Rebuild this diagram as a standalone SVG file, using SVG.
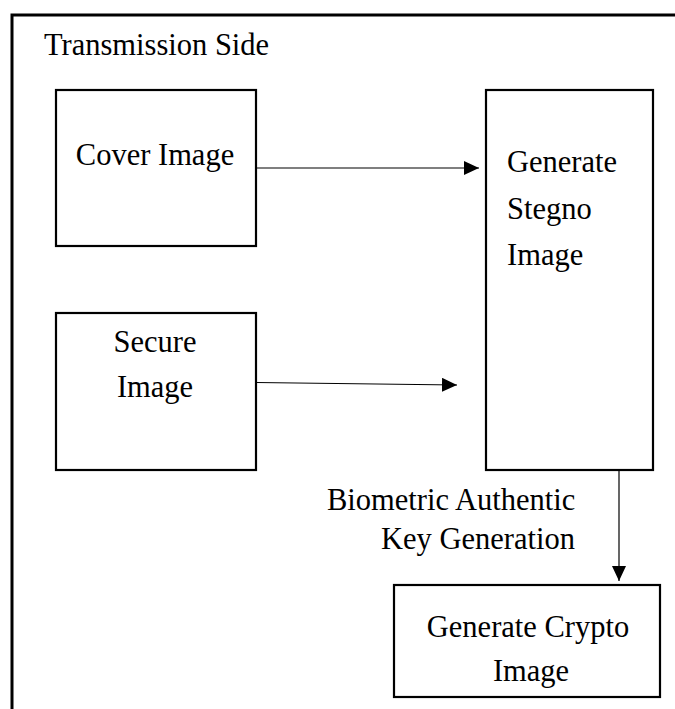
<svg xmlns="http://www.w3.org/2000/svg" width="675" height="709" viewBox="0 0 675 709">
  <style>
    .box { fill: #fff; stroke: #000; stroke-width: 2.2; }
    .frame { fill: none; stroke: #000; stroke-width: 3; }
    .wire { fill: none; stroke: #000; stroke-width: 1.2; }
    .label { font-family: "Liberation Serif", "Times New Roman", serif; font-size: 30.5px; fill: #000; }
    .mid { text-anchor: middle; }
  </style>
  <defs>
    <marker id="arrow" markerUnits="userSpaceOnUse" markerWidth="16" markerHeight="14" refX="15" refY="7" orient="auto">
      <path d="M0,0 L15,7 L0,14 Z" fill="#000"/>
    </marker>
  </defs>
  <rect width="675" height="709" fill="#fff"/>

  <!-- outer panel: only top and left edges are visible -->
  <path class="frame" d="M12,709 L12,15 L675,15"/>
  <text class="label" x="44" y="55">Transmission Side</text>

  <g id="cover-image">
    <rect class="box" x="56" y="90" width="200" height="156"/>
    <text class="label mid" x="155" y="165">Cover Image</text>
  </g>

  <g id="secure-image">
    <rect class="box" x="56" y="313" width="200" height="157"/>
    <text class="label mid" x="155" y="352">Secure</text>
    <text class="label mid" x="155" y="397">Image</text>
  </g>

  <g id="generate-stegno">
    <rect class="box" x="486" y="90" width="167" height="380"/>
    <text class="label" x="507" y="172">Generate</text>
    <text class="label" x="507" y="219">Stegno</text>
    <text class="label" x="507" y="265">Image</text>
  </g>

  <g id="generate-crypto">
    <rect class="box" x="394" y="585" width="266" height="112"/>
    <text class="label mid" x="528" y="637">Generate Crypto</text>
    <text class="label mid" x="531" y="681">Image</text>
  </g>

  <g id="key-label">
    <text class="label" x="327" y="510">Biometric Authentic</text>
    <text class="label" x="381" y="549">Key Generation</text>
  </g>

  <g id="connectors">
    <line class="wire" x1="256" y1="168" x2="479" y2="168" marker-end="url(#arrow)"/>
    <line class="wire" x1="256" y1="382.5" x2="457" y2="385" marker-end="url(#arrow)"/>
    <line class="wire" x1="619" y1="470" x2="619" y2="581" marker-end="url(#arrow)"/>
  </g>
</svg>
